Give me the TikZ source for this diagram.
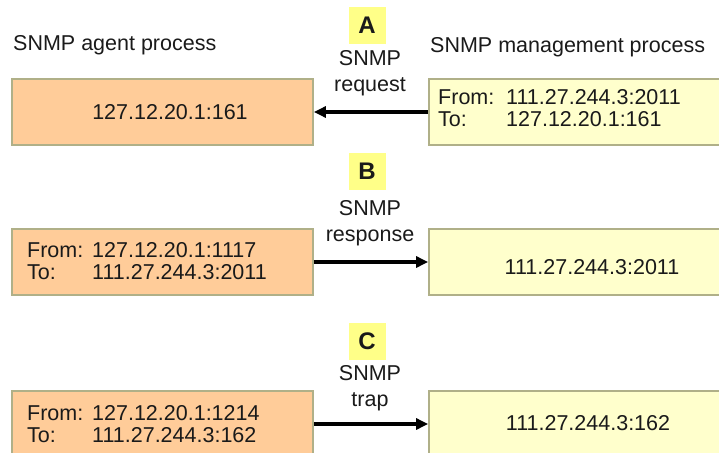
\documentclass[tikz,border=0pt]{standalone}
\usepackage{fontspec}
\setmainfont{Liberation Sans}
\usetikzlibrary{arrows.meta}
\definecolor{agentfill}{HTML}{FFCC99}
\definecolor{mgrfill}{HTML}{FFFFCC}
\definecolor{boxline}{HTML}{B0B088}
\definecolor{tagfill}{HTML}{FFFF88}
\definecolor{ink}{HTML}{1A1A1A}
% one line of an address box: field name in a fixed-width column, then the value
\newcommand{\addrline}[3]{\makebox[#1][l]{#2}#3}
\begin{document}
\begin{tikzpicture}[x=1pt,y=-1pt,
  every node/.style={text=ink},
  basefont/.style={font=\fontsize{21.5}{26}\selectfont},
  procbox/.style={draw=boxline,line width=1.8pt,minimum height=66pt,inner sep=0pt},
  agentbox/.style={procbox,fill=agentfill,minimum width=301pt},
  mgrbox/.style={procbox,fill=mgrfill,minimum width=300pt},
  boxtext/.style={basefont,inner sep=0pt},
  addrtext/.style={font=\fontsize{21.5}{22}\selectfont,inner sep=0pt,anchor=west,align=left},
  header/.style={basefont,inner sep=0pt,anchor=west},
  tag/.style={fill=tagfill,minimum width=37pt,minimum height=37pt,inner sep=0pt,
              font=\fontsize{24}{24}\selectfont\bfseries},
  msg/.style={font=\fontsize{21.5}{26}\selectfont,align=center,inner sep=0pt},
  arr/.style={line width=3.2pt,-{Triangle[length=12pt,width=11pt]}}
]
\useasboundingbox (0,0) rectangle (719,452);
\clip (0,0) rectangle (719,452);

% column headers
\node[header] (hagent) at (13,45) {SNMP agent process};
\node[header] (hmgr) at (430,47) {SNMP management process};

% A: request from the manager to the agent
\node[agentbox] (agentA) at (162.5,112) {};
\node[mgrbox] (mgrA) at (579,112) {};
\node[boxtext] (agentAtxt) at (170,112) {127.12.20.1:161};
\node[addrtext] (mgrAtxt) at (438,108)
  {\addrline{68pt}{From:}{111.27.244.3:2011}\\\addrline{68pt}{To:}{127.12.20.1:161}};
\node[tag] (tagA) at (367,25.5) {A};
\node[msg] (msgA) at (370,73) {SNMP\\request};
\draw[arr] (mgrA) -- (agentA);

% B: response from the agent to the manager
\node[agentbox] (agentB) at (162.5,262) {};
\node[mgrbox] (mgrB) at (579,262) {};
\node[addrtext] (agentBtxt) at (27,261)
  {\addrline{65pt}{From:}{127.12.20.1:1117}\\\addrline{65pt}{To:}{111.27.244.3:2011}};
\node[boxtext] (mgrBtxt) at (592,267) {111.27.244.3:2011};
\node[tag] (tagB) at (367,171.5) {B};
\node[msg] (msgB) at (370,223.5) {SNMP\\response};
\draw[arr] (agentB) -- (mgrB);

% C: trap from the agent to the manager
\node[agentbox] (agentC) at (162.5,424) {};
\node[mgrbox] (mgrC) at (579,424) {};
\node[addrtext] (agentCtxt) at (27,424)
  {\addrline{65pt}{From:}{127.12.20.1:1214}\\\addrline{65pt}{To:}{111.27.244.3:162}};
\node[boxtext] (mgrCtxt) at (588,423) {111.27.244.3:162};
\node[tag] (tagC) at (367,341) {C};
\node[msg] (msgC) at (370,388.5) {SNMP\\trap};
\draw[arr] (agentC) -- (mgrC);
\end{tikzpicture}
\end{document}
